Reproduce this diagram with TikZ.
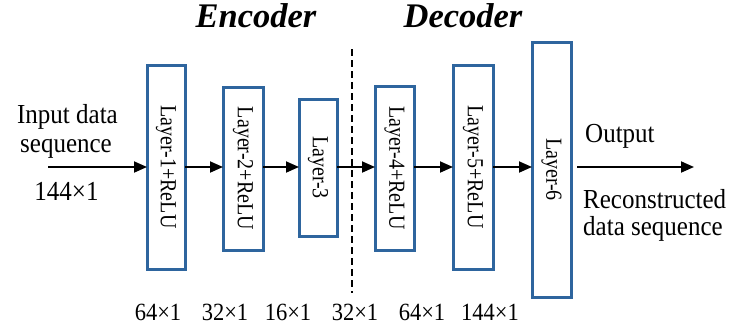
\documentclass[tikz,border=0pt]{standalone}
\usepackage{fontspec}
\setmainfont{Liberation Serif}
\usetikzlibrary{arrows.meta}
\definecolor{boxblue}{RGB}{46,101,158}
\tikzset{
  layerbox/.style={draw=boxblue, line width=3pt, inner sep=0pt, outer sep=0pt, fill=white},
  arr/.style={line width=1.8pt, -{Triangle[length=13pt,width=11pt]}},
  sidetxt/.style={font=\fontsize{25}{28}\selectfont, inner sep=0pt},
  dimtxt/.style={font=\fontsize{22.5}{24}\selectfont, inner sep=0pt, anchor=base},
  parttxt/.style={font=\fontsize{34.5}{36}\selectfont\bfseries\itshape, inner sep=0pt, anchor=base}
}
\newcommand{\layertxt}[1]{\rotatebox{-90}{\scalebox{1}[1.15]{\fontsize{20}{22}\selectfont #1}}}
\newcommand{\tallt}[1]{\scalebox{1}[1.1]{#1}}
\begin{document}
\begin{tikzpicture}[x=1pt,y=-1pt]
\useasboundingbox (0,0) rectangle (734,327);
% boxes
\node[layerbox, minimum width=38pt, minimum height=204pt] (b1) at (166,167) {\layertxt{Layer-1+ReLU}};
\node[layerbox, minimum width=40pt, minimum height=163pt] (b2) at (243,168.5) {\layertxt{Layer-2+ReLU}};
\node[layerbox, minimum width=38pt, minimum height=137pt] (b3) at (318,167.5) {\layertxt{Layer-3}};
\node[layerbox, minimum width=39pt, minimum height=164pt] (b4) at (394.5,168) {\layertxt{Layer-4+ReLU}};
\node[layerbox, minimum width=40pt, minimum height=204pt] (b5) at (473,167) {\layertxt{Layer-5+ReLU}};
\node[layerbox, minimum width=39pt, minimum height=255pt] (b6) at (551.5,169.5) {\layertxt{Layer-6}};
% dashed separator
\coordinate (dtop) at (352,49);
\coordinate (dbot) at (352,293);
\draw[line width=1.8pt, dash pattern=on 7pt off 4pt] (dtop) -- (dbot);
% arrows
\coordinate (in) at (48,167);
\coordinate (out) at (694,167);
\draw[arr] (in) -- (b1.west |- in);
\draw[arr] (b1.east |- in) -- (b2.west |- in);
\draw[arr] (b2.east |- in) -- (b3.west |- in);
\draw[arr] (b3.east |- in) -- (b4.west |- in);
\draw[arr] (b4.east |- in) -- (b5.west |- in);
\draw[arr] (b5.east |- in) -- (b6.west |- in);
\draw[arr] ([xshift=6pt]b6.east |- out) -- (out);
% side texts
\node[sidetxt, anchor=base] (t1) at (67.5,123) {\tallt{Input data}};
\node[sidetxt, anchor=base] (t2) at (66,152) {\tallt{sequence}};
\node[sidetxt, anchor=base] (t3) at (66.5,200) {\tallt{144×1}};
\node[sidetxt, anchor=base west] (t4) at (585,142) {\tallt{Output}};
\node[sidetxt, anchor=base west] (t5) at (583,208) {\tallt{Reconstructed}};
\node[sidetxt, anchor=base west] (t6) at (583,235) {\tallt{data sequence}};
% dims
\node[dimtxt] (d1) at (158,320) {\tallt{64×1}};
\node[dimtxt] (d2) at (225,320) {\tallt{32×1}};
\node[dimtxt] (d3) at (288,320) {\tallt{16×1}};
\node[dimtxt] (d4) at (355,320) {\tallt{32×1}};
\node[dimtxt] (d5) at (422,320) {\tallt{64×1}};
\node[dimtxt] (d6) at (490,320) {\tallt{144×1}};
% headings
\node[parttxt] (enc) at (256,27) {Encoder};
\node[parttxt] (dec) at (463,27) {Decoder};
\end{tikzpicture}
\end{document}
